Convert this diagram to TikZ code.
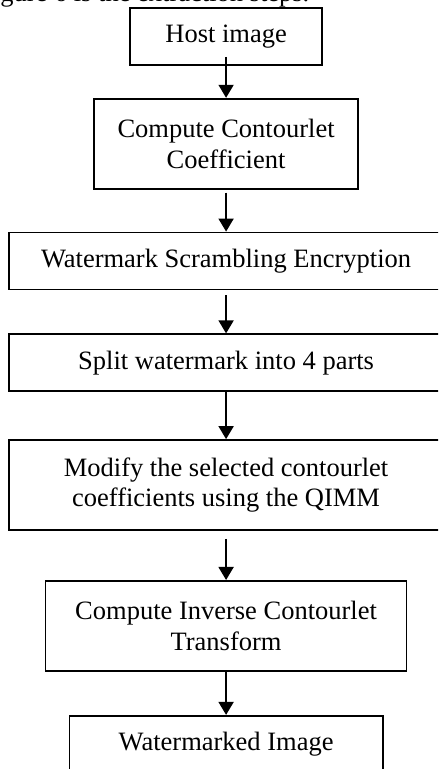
\documentclass[tikz,border=0pt]{standalone}
\usepackage{fontspec}
\setmainfont{Liberation Serif}
\usetikzlibrary{positioning,arrows.meta}

\begin{document}
\begin{tikzpicture} [line width=0.8pt, font=\fontsize{12}{14}\selectfont]
    \tikzstyle{every node} = [align=center]
    \tikzstyle{stage} = [draw, inner sep=3pt, minimum height=25.8pt]
    \tikzstyle{tall} = [minimum height=40.8pt]
    \tikzstyle{flow} = [-{Triangle[width=6.8pt,length=5.9pt]}]
    \useasboundingbox (-102.4pt,16.5pt) rectangle (96pt,-331.8pt);
    \clip (-102.4pt,16.5pt) rectangle (96pt,-331.8pt);
    \node [anchor=base east, inner sep=0pt] (caption) at (38.1pt,15.8pt) {Figure 6 is the extraction steps.};
    \node [stage, minimum width=87pt] (host) {Host image};
    \node [stage, tall, minimum width=119.6pt, below=14.5pt of host] (coeff) {Compute Contourlet \\ Coefficient};
    \node [stage, minimum width=196.6pt, below=19pt of coeff] (scramble) {Watermark Scrambling Encryption};
    \node [stage, minimum width=196.6pt, below=19.5pt of scramble] (split) {Split watermark into 4 parts};
    \node [stage, tall, minimum width=196.6pt, below=21.3pt of split] (modify) {Modify the selected contourlet \\ coefficients using the QIMM};
    \node [stage, tall, minimum width=163.5pt, below=22.2pt of modify] (inverse) {Compute Inverse Contourlet \\ Transform};
    \node [stage, minimum width=141.8pt, below=19.5pt of inverse] (marked) {Watermarked Image};

    \draw [flow, shorten <=-4pt] (host) -- (coeff);
    \draw [flow, shorten <=1.4pt] (coeff) -- (scramble);
    \draw [flow, shorten <=2.3pt] (scramble) -- (split);
    \draw [flow] (split) -- (modify);
    \draw [flow, shorten <=3.6pt] (modify) -- (inverse);
    \draw [flow] (inverse) -- (marked);
\end{tikzpicture}
\end{document}
